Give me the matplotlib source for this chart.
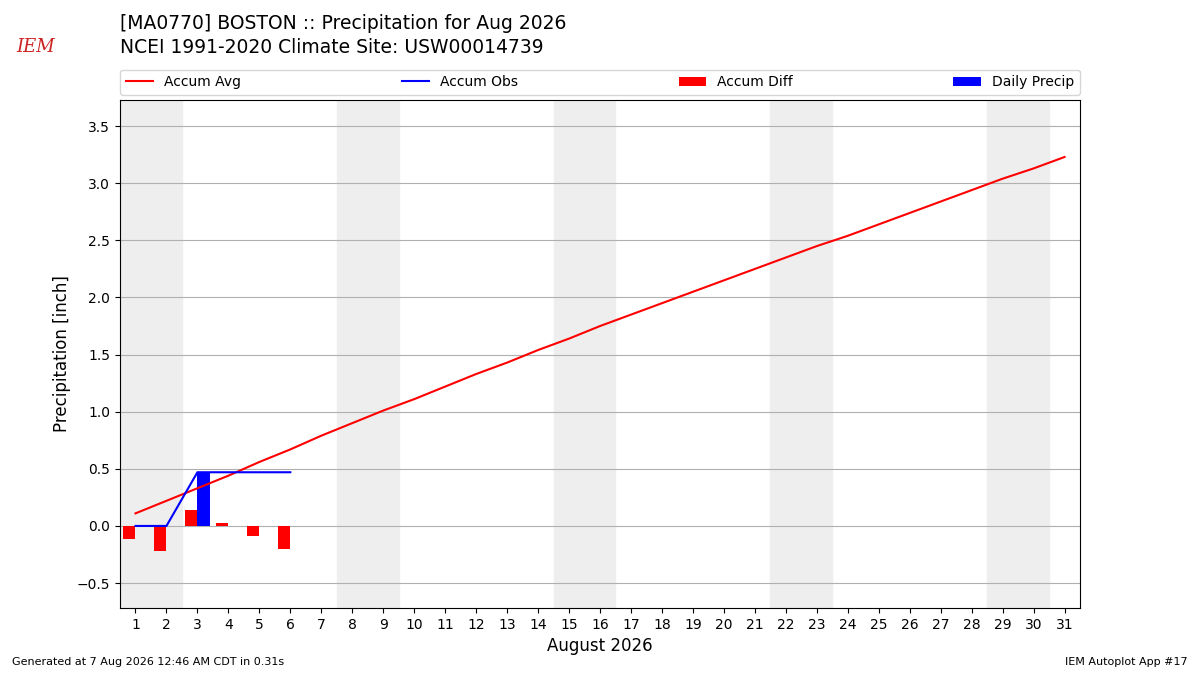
import matplotlib
matplotlib.use("Agg")
import matplotlib.pyplot as plt
import numpy as np

days = list(range(1, 32))
accum_avg = [0.11,0.22,0.33,0.44,0.56,0.67,0.79,0.90,1.01,1.11,1.22,1.33,1.43,1.54,1.64,1.75,
             1.85,1.95,2.05,2.15,2.25,2.35,2.45,2.54,2.64,2.74,2.84,2.94,3.04,3.13,3.23]
obs_days = [1,2,3,4,5,6]
accum_obs = [0.0,0.0,0.47,0.47,0.47,0.47]
daily_precip = [0.0,0.0,0.47,0.0,0.0,0.0]
accum_diff = [-0.11,-0.22,0.14,0.03,-0.09,-0.20]
weekends = [(1,2),(8,9),(15,16),(22,23),(29,30)]

fig = plt.figure(figsize=(12,6.75), dpi=100)
ax = fig.add_axes([0.1, 0.099, 0.8, 0.753])
for a,b in weekends:
    ax.axvspan(a-0.5, b+0.5, color="#eeeeee", zorder=0)
ax.grid(axis="y", color="#b0b0b0", zorder=1)
ax.set_axisbelow(True)
ax.plot(days, accum_avg, color="red", label="Accum Avg", zorder=3)
ax.plot(obs_days, accum_obs, color="blue", label="Accum Obs", zorder=3)
ax.bar(obs_days, accum_diff, width=-0.4, align="edge", color="red", label="Accum Diff", zorder=2)
ax.bar(obs_days, daily_precip, width=0.4, align="edge", color="blue", label="Daily Precip", zorder=2)
ax.set_xlim(0.5, 31.5)
ax.set_ylim(-0.72, 3.73)
ax.set_xticks(days)
ax.set_yticks(np.arange(-0.5, 3.51, 0.5))
ax.set_xlabel("August 2026", fontsize=12)
ax.set_ylabel("Precipitation [inch]", fontsize=12)
ax.legend(loc="lower left", bbox_to_anchor=(0, 1.01, 1, 0.05), ncol=4, mode="expand",
          fontsize=10, borderaxespad=0)
fig.text(0.1, 0.965, "[MA0770] BOSTON :: Precipitation for Aug 2026", fontsize=13.5, va="center")
fig.text(0.1, 0.93, "NCEI 1991-2020 Climate Site: USW00014739", fontsize=13.5, va="center")
fig.text(0.03, 0.93, "IEM", color="#cc2222", fontsize=13, style="italic", family="serif", va="center", ha="center")
fig.text(0.01, 0.015, "Generated at 7 Aug 2026 12:46 AM CDT in 0.31s", fontsize=8)
fig.text(0.99, 0.015, "IEM Autoplot App #17", fontsize=8, ha="right")
fig.savefig("out.png")
